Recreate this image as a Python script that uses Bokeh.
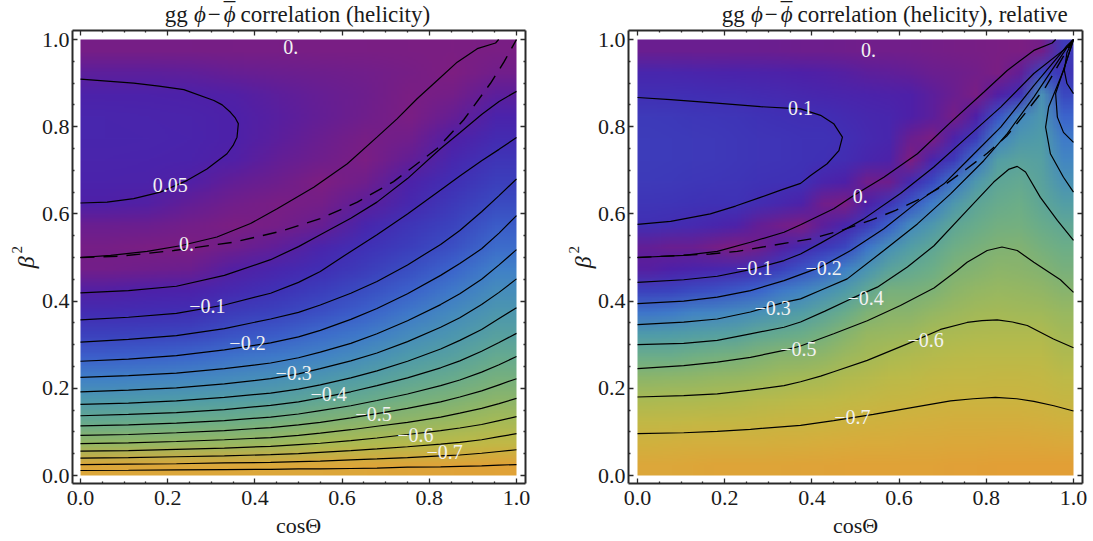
import base64, struct, zlib
import numpy as np
from bokeh.plotting import figure
from bokeh.layouts import row
from bokeh.models import FixedTicker, LinearAxis
from bokeh.core.properties import value
from bokeh.embed import file_html
from bokeh.resources import INLINE

SERIF = "Liberation Serif"
TICK_VALUES = [0.0, 0.2, 0.4, 0.6, 0.8, 1.0]
TICK_LABELS = ["0.0", "0.2", "0.4", "0.6", "0.8", "1.0"]
MINOR_TICKS = [0.05, 0.1, 0.15, 0.25, 0.3, 0.35, 0.45, 0.5, 0.55, 0.65, 0.7, 0.75, 0.85, 0.9, 0.95]

# colour stops: |value| -> colour
STOP_VALUES = [0, .03, .05, .1, .15, .2, .25, .3, .35, .4, .45, .5, .55, .6, .65, .7, .75, .8]
STOP_COLORS = ["#7E1E80", "#6A1E90", "#4E20A8", "#4030B5", "#3A48C0", "#3C64CC", "#4080C8", "#4890B8", "#509CA8",
               "#5EA598", "#6CAE88", "#80B274", "#94B764", "#A8BA54", "#BDBA48", "#CBB440", "#D8AC3C", "#E29F36"]

# Field, one list per column (top row first)
left_field = [
 [.012,.04,.056,.068,.07,.066,.06,.05,.03,.012,-.017,-.047,-.088,-.135,-.19,-.25,-.333,-.43,-.55,-.77],
 [.012,.04,.056,.066,.068,.064,.058,.047,.028,.006,-.022,-.052,-.092,-.14,-.195,-.26,-.34,-.44,-.55,-.77],
 [.012,.038,.053,.062,.064,.06,.048,.035,.016,-.004,-.028,-.057,-.097,-.145,-.205,-.27,-.35,-.45,-.555,-.77],
 [.01,.033,.048,.052,.052,.048,.035,.02,.004,-.022,-.047,-.08,-.125,-.17,-.225,-.285,-.36,-.455,-.56,-.77],
 [.01,.03,.04,.043,.041,.035,.025,.008,-.013,-.038,-.068,-.105,-.14,-.185,-.24,-.3,-.375,-.475,-.57,-.77],
 [.008,.025,.033,.034,.03,.022,.002,-.015,-.032,-.065,-.095,-.13,-.165,-.215,-.26,-.325,-.41,-.5,-.6,-.77],
 [.008,.02,.025,.022,.01,-.005,-.022,-.04,-.07,-.103,-.125,-.16,-.195,-.24,-.295,-.36,-.435,-.525,-.615,-.775],
 [.006,.012,.006,-.005,-.02,-.035,-.055,-.075,-.11,-.13,-.16,-.195,-.235,-.285,-.34,-.4,-.47,-.545,-.63,-.78],
 [.004,-.002,-.015,-.033,-.048,-.072,-.098,-.118,-.14,-.165,-.2,-.238,-.28,-.325,-.375,-.435,-.495,-.565,-.645,-.785],
 [-.008,-.02,-.04,-.06,-.085,-.11,-.132,-.155,-.185,-.215,-.25,-.29,-.33,-.375,-.425,-.475,-.53,-.595,-.665,-.79],
]
right_field = [
 [.03,.07,.098,.12,.125,.125,.12,.11,.098,.035,-.044,-.135,-.23,-.345,-.445,-.53,-.605,-.665,-.72,-.77],
 [.03,.068,.097,.118,.123,.123,.118,.108,.09,.03,-.05,-.14,-.24,-.35,-.445,-.535,-.61,-.665,-.725,-.77],
 [.03,.065,.095,.115,.12,.12,.115,.105,.08,.03,-.06,-.155,-.26,-.36,-.46,-.54,-.61,-.67,-.73,-.775],
 [.03,.062,.092,.112,.118,.118,.112,.102,.07,.013,-.068,-.165,-.266,-.37,-.47,-.55,-.615,-.672,-.73,-.78],
 [.03,.06,.09,.11,.115,.115,.11,.105,.055,.0,-.08,-.18,-.28,-.38,-.48,-.555,-.62,-.675,-.73,-.78],
 [.03,.058,.085,.105,.11,.11,.105,.09,.035,-.02,-.1,-.2,-.3,-.41,-.5,-.565,-.63,-.68,-.73,-.78],
 [.028,.055,.08,.1,.108,.108,.102,.075,.02,-.045,-.13,-.235,-.33,-.43,-.52,-.58,-.635,-.69,-.735,-.78],
 [.025,.05,.075,.098,.105,.105,.1,.055,-.005,-.08,-.167,-.262,-.357,-.447,-.525,-.59,-.645,-.69,-.74,-.785],
 [.025,.048,.07,.095,.105,.1,.065,.02,-.04,-.115,-.2,-.3,-.395,-.475,-.54,-.6,-.65,-.695,-.745,-.785],
 [.022,.045,.065,.085,.098,.09,.05,-.006,-.07,-.145,-.253,-.346,-.44,-.516,-.57,-.62,-.66,-.705,-.75,-.79],
 [.02,.04,.06,.075,.08,.07,.02,-.05,-.125,-.23,-.315,-.41,-.495,-.558,-.59,-.63,-.67,-.715,-.755,-.79],
 [.02,.038,.055,.07,.07,.055,-.025,-.11,-.195,-.3,-.385,-.48,-.522,-.565,-.607,-.645,-.68,-.72,-.755,-.79],
 [.018,.035,.05,.05,.03,.0,-.085,-.175,-.28,-.36,-.42,-.48,-.525,-.575,-.62,-.65,-.685,-.725,-.76,-.79],
 [.015,.03,.04,.04,-.005,-.067,-.15,-.245,-.335,-.405,-.45,-.495,-.55,-.6,-.63,-.665,-.695,-.73,-.76,-.79],
 [.012,.025,.03,.012,-.06,-.12,-.235,-.335,-.405,-.455,-.495,-.53,-.57,-.61,-.64,-.67,-.7,-.735,-.765,-.795],
 [.01,.018,.008,-.05,-.125,-.23,-.335,-.4,-.44,-.48,-.51,-.55,-.585,-.617,-.645,-.67,-.7,-.735,-.765,-.795],
 [.008,.006,-.048,-.17,-.26,-.36,-.403,-.435,-.467,-.5,-.53,-.56,-.59,-.62,-.645,-.675,-.7,-.735,-.77,-.8],
 [.004,-.035,-.1,-.275,-.33,-.385,-.42,-.45,-.47,-.505,-.525,-.555,-.585,-.62,-.645,-.675,-.7,-.735,-.77,-.8],
 [-.015,-.15,-.31,-.33,-.35,-.37,-.385,-.405,-.44,-.475,-.51,-.545,-.58,-.62,-.645,-.67,-.695,-.73,-.765,-.8],
 [-.12,-.11,-.15,-.2,-.24,-.27,-.31,-.36,-.41,-.45,-.48,-.52,-.56,-.59,-.62,-.65,-.68,-.72,-.76,-.8],
]

# Contours
left_p05 = ([0,.061,.122,.183,.245,.29,.336,.35,.359,.362,.355,.344,.325,.306,.237,.18,.122,0],
            [.625,.627,.635,.65,.677,.703,.738,.757,.776,.807,.82,.833,.85,.86,.885,.893,.90,.909])
left_0 = ([0,.069,.153,.229,.313,.39,.451,.535,.612,.68,.726,.772,.818,.864,.91,.952,.959],
          [.5,.505,.514,.527,.547,.578,.612,.661,.715,.776,.818,.864,.906,.948,.979,.992,1.0])
left_dash = ([0,.092,.214,.351,.459,.55,.635,.718,.818,.879,.94,.971,1.0],
             [.5,.503,.516,.535,.56,.589,.627,.674,.75,.816,.899,.948,1.0])
left_cos = [0,.11,.22,.33,.436,.5,.55,.62,.68,.75,.826,.87,.92,.96,1]
left_m05 = [.419,.424,.434,.459,.495,.525,.552,.59,.627,.681,.75,.786,.828,.858,.881]
left_m10 = [.357,.363,.372,.391,.418,.443,.468,.514,.552,.60,.655,.687,.722,.748,.775]
left_m15 = [.306,.312,.321,.337,.359,.374,.391,.418,.445,.483,.53,.562,.605,.642,.68]
left_m20 = [.262,.267,.275,.288,.304,.318,.333,.358,.383,.417,.459,.486,.52,.556,.596]
left_m25 = [.225,.229,.235,.245,.258,.27,.283,.303,.325,.355,.392,.417,.45,.483,.518]
left_m30 = [.192,.196,.201,.21,.222,.233,.245,.263,.281,.307,.34,.362,.392,.42,.451]
left_m35 = [.163,.166,.171,.179,.189,.198,.208,.224,.24,.262,.29,.31,.335,.36,.385]
left_m40 = [.137,.14,.144,.151,.161,.169,.178,.192,.206,.224,.247,.263,.285,.305,.326]
left_m45 = [.114,.116,.12,.126,.134,.141,.149,.16,.172,.187,.206,.219,.237,.254,.273]
left_m50 = [.092,.094,.098,.103,.11,.116,.122,.132,.142,.154,.169,.18,.194,.208,.222]
left_m55 = [.073,.075,.078,.082,.087,.092,.097,.105,.113,.122,.134,.143,.154,.165,.177]
left_m60 = [.056,.057,.06,.063,.067,.071,.074,.08,.086,.094,.103,.109,.117,.126,.135]
left_m65 = [.04,.041,.043,.045,.048,.05,.053,.057,.061,.066,.072,.076,.082,.089,.096]
left_m70 = [.025,.026,.027,.029,.03,.032,.033,.036,.038,.041,.045,.047,.051,.055,.059]
left_m75 = [.0115,.012,.013,.0135,.014,.015,.015,.016,.017,.019,.02,.021,.022,.024,.025]

right_p10 = ([0,.076,.167,.225,.282,.33,.374,.397,.435,.462,.47,.45,.42,.374,.282,.167,.076,0],
             [.576,.583,.60,.618,.638,.655,.67,.688,.715,.745,.776,.807,.826,.841,.846,.855,.862,.867])
right_0 = ([0,.106,.183,.259,.336,.374,.45,.496,.565,.642,.718,.794,.848,.909,.951,.959],
           [.5,.505,.514,.535,.558,.575,.612,.642,.684,.738,.81,.879,.929,.975,.992,1.0])
right_dash = ([0,.167,.229,.351,.40,.473,.534,.592,.649,.702,.756,.802,.848,.894,.936,.998],
              [.5,.508,.514,.535,.543,.564,.585,.608,.635,.665,.704,.739,.78,.837,.891,.998])
right_m10 = ([0,.106,.183,.259,.336,.374,.42,.45,.518,.603,.679,.756,.833,.909,.985,1,.985,.979,.985,1],
             [.443,.449,.457,.472,.493,.508,.533,.55,.588,.647,.707,.776,.845,.922,.982,1,.97,.929,.899,.876])
right_m20 = ([0,.106,.183,.259,.336,.42,.489,.565,.642,.703,.756,.833,.909,.97,.985,1,.982,.959,.963,.977,1],
             [.394,.40,.409,.424,.447,.478,.516,.566,.627,.669,.722,.799,.894,.967,.986,1,.945,.876,.822,.787,.764])
right_m30 = ([0,.106,.183,.259,.336,.374,.42,.481,.565,.642,.718,.794,.848,.909,.97,.988,1,.977,.943,.936,.947,.977,1],
             [.346,.352,.359,.375,.397,.405,.425,.451,.516,.577,.646,.722,.784,.868,.959,.986,1,.929,.845,.799,.738,.684,.65])
right_m40 = ([0,.106,.183,.259,.336,.374,.43,.489,.55,.619,.68,.756,.817,.851,.871,.89,.924,.963,1],
             [.30,.303,.31,.325,.34,.352,.377,.405,.432,.478,.527,.608,.673,.702,.709,.696,.638,.585,.539])
right_m50 = ([0,.106,.183,.259,.336,.374,.45,.527,.603,.68,.733,.756,.802,.836,.871,.909,.97,1],
             [.245,.252,.26,.271,.287,.297,.325,.355,.39,.43,.47,.489,.516,.524,.516,.489,.449,.42])
right_m60 = ([0,.106,.183,.259,.336,.374,.42,.45,.527,.619,.695,.756,.79,.825,.86,.894,.954,1],
             [.18,.183,.187,.196,.206,.215,.228,.238,.264,.302,.335,.351,.355,.357,.352,.344,.313,.293])
right_m70 = ([0,.106,.183,.259,.374,.45,.541,.642,.718,.77,.821,.87,.909,.955,1],
             [.096,.098,.101,.106,.115,.126,.14,.158,.171,.176,.179,.176,.17,.16,.148])

left_label_text = ["0.", "0.05", "0.", "\u22120.1", "\u22120.2", "\u22120.3", "\u22120.4", "\u22120.5", "\u22120.6", "\u22120.7"]
left_label_x = [.482, .206, .243, .291, .383, .489, .569, .672, .768, .835]
left_label_y = [.982, .667, .532, .388, .303, .236, .186, .14, .092, .053]
right_label_text = ["0.", "0.1", "0.", "\u22120.1", "\u22120.2", "\u22120.3", "\u22120.4", "\u22120.5", "\u22120.6", "\u22120.7"]
right_label_x = [.53, .374, .511, .268, .427, .31, .523, .369, .661, .493]
right_label_y = [.977, .842, .642, .475, .477, .385, .406, .291, .31, .135]

left_contours = [left_p05, left_0] + [
    (left_cos, c) for c in (left_m05, left_m10, left_m15, left_m20, left_m25, left_m30, left_m35, left_m40,
                            left_m45, left_m50, left_m55, left_m60, left_m65, left_m70, left_m75)]
right_contours = [right_p10, right_0, right_m10, right_m20, right_m30, right_m40, right_m50, right_m60, right_m70]


def field_png(field):
    """The read field as a small PNG: one pixel per cell, coloured by |value|."""
    rgb = np.array([[int(c[i:i + 2], 16) for i in (1, 3, 5)] for c in STOP_COLORS], float)
    grid = np.abs(np.array(field)).T
    img = np.stack([np.interp(grid, STOP_VALUES, rgb[:, k]) for k in range(3)], 2).round().astype(np.uint8)
    raw = b"".join(b"\x00" + r.tobytes() for r in img)

    def chunk(tag, data):
        return struct.pack(">I", len(data)) + tag + data + struct.pack(">I", zlib.crc32(tag + data))

    h, w = img.shape[:2]
    png = (b"\x89PNG\r\n\x1a\n" + chunk(b"IHDR", struct.pack(">IIBBBBB", w, h, 8, 2, 0, 0, 0))
           + chunk(b"IDAT", zlib.compress(raw)) + chunk(b"IEND", b""))
    return "data:image/png;base64," + base64.b64encode(png).decode()


def text(p, s, x, y, size=23, style="normal", angle=0, align="left"):
    p.text([x], [y], text=[s], text_font=value(SERIF), text_font_size=f"{size}px", text_font_style=style,
           text_color="#1a1a1a", angle=angle, angle_units="deg", text_align=align, text_baseline="alphabetic")


def panel(field, contours, dash, lx, ly, lt, title, width, px_origin, frame_left):
    U = 436.0
    H = 538
    xr = (-px_origin / U, (width - px_origin) / U)
    yr = ((475 - H) / U, 475 / U)
    xl, xh, yl, yh = frame_left, 445 / U, -8 / U, 445 / U
    p = figure(width=width, height=H, x_range=xr, y_range=yr, x_axis_type=None, y_axis_type=None,
               output_backend="svg", toolbar_location=None, min_border=0, outline_line_color=None,
               background_fill_color="white", border_fill_color="white")
    p.grid.visible = False
    p.image_url(url=[field_png(field)], x=0, y=1, w=1, h=1, anchor="top_left")
    for xs, ys in contours:
        p.line(xs, ys, line_color="black", line_width=1.2)
    p.line(dash[0], dash[1], line_color="black", line_width=1.4, line_dash="14 9")
    p.text(lx, ly, text=lt, text_color="#f2f2f2", text_font=value(SERIF), text_font_size="20px",
           text_align="center", text_baseline="middle")
    for place, loc, bounds, labelled in (("below", yl, (xl, xh), True), ("above", yh, (xl, xh), False),
                                         ("left", xl, (yl, yh), True), ("right", xh, (yl, yh), False)):
        ax = LinearAxis(fixed_location=loc, bounds=bounds,
                        ticker=FixedTicker(ticks=TICK_VALUES, minor_ticks=MINOR_TICKS))
        ax.major_tick_in, ax.major_tick_out = 5, 0
        ax.minor_tick_in, ax.minor_tick_out = 2, 0
        ax.axis_line_width = 2
        ax.axis_line_color = ax.major_tick_line_color = ax.minor_tick_line_color = "#2a2a2a"
        ax.major_tick_line_width = ax.minor_tick_line_width = 1.3
        ax.major_label_overrides = dict(zip(TICK_VALUES, TICK_LABELS if labelled else [""] * 6))
        ax.major_label_text_font = SERIF
        ax.major_label_text_font_size = "22px"
        ax.major_label_text_color = "#1a1a1a"
        ax.major_label_standoff = 7 if place == "below" else 3
        p.add_layout(ax, place)
    y = 461 / U
    text(p, "gg", .193, y)
    text(p, "\u03d5", .342 - .068, y, style="italic", align="center")
    text(p, "\u2212", .292, y)
    text(p, "\u03d5", .342, y, style="italic", align="center")
    text(p, "\u00af", .342, y + 3 / U, align="center")
    text(p, title, .367, y)
    text(p, "cos\u0398", .5, -.114, size=22, align="center")
    text(p, "\u03b2", -.125, .489, size=24, style="italic", angle=90, align="center")
    text(p, "2", -.146, .518, size=15, angle=90, align="center")
    return p


p1 = panel(left_field, left_contours, left_dash, left_label_x, left_label_y, left_label_text,
           "correlation (helicity)", 552, 80, -8 / 436)
p2 = panel(right_field, right_contours, right_dash, right_label_x, right_label_y, right_label_text,
           "correlation (helicity), relative", 538, 85, -9 / 436)
page = row(p1, p2)
open("out.html", "w").write(file_html(page, INLINE))
